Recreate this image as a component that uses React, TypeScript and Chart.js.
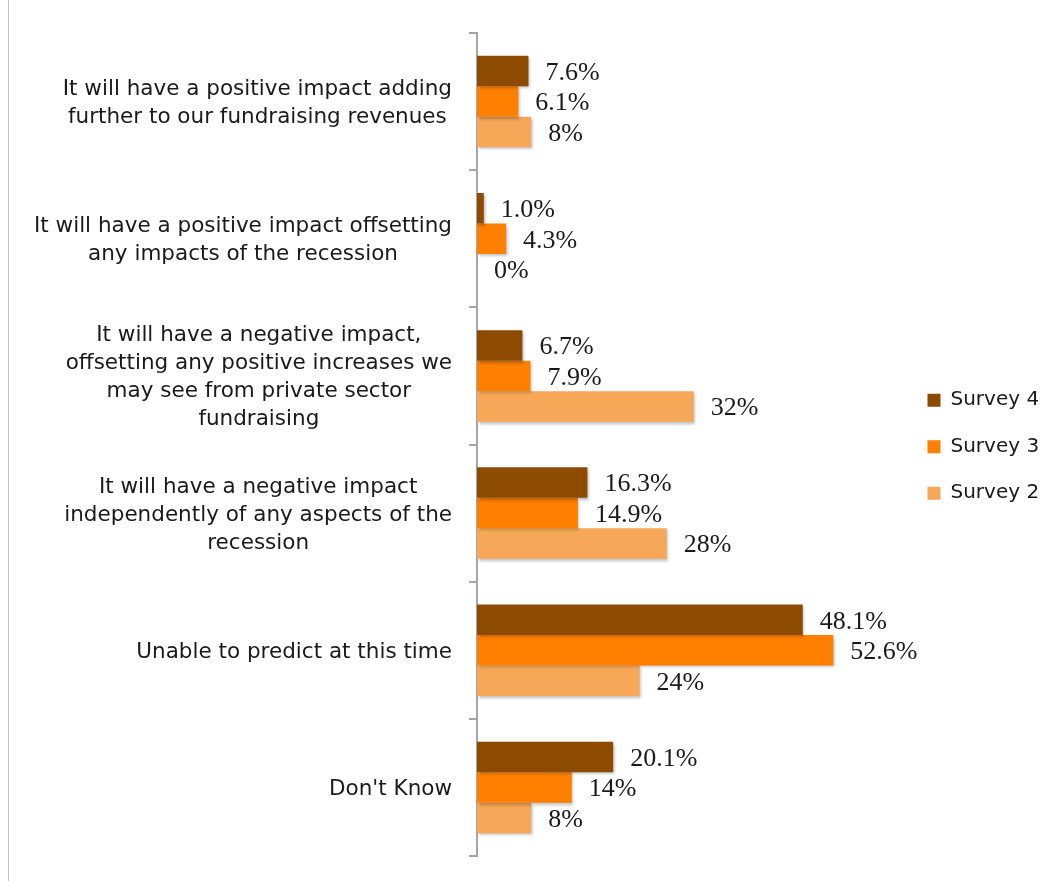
import React, { useEffect, useRef } from "react";
import { Chart, registerables } from "chart.js";

Chart.register(...registerables);

const categories: string[][] = [
  ["It will have a positive impact adding", "further to our fundraising revenues"],
  ["It will have a positive impact offsetting", "any impacts of the recession"],
  ["It will have a negative impact,", "offsetting any positive increases we", "may see from private sector", "fundraising"],
  ["It will have a negative impact", "independently of any aspects of the", "recession"],
  ["Unable to predict at this time"],
  ["Don't Know"],
];

const seriesNames = ["Survey 4", "Survey 3", "Survey 2"];
const survey4 = [7.6, 1.0, 6.7, 16.3, 48.1, 20.1];
const survey3 = [6.1, 4.3, 7.9, 14.9, 52.6, 14];
const survey2 = [8, 0, 32, 28, 24, 8];
const seriesDecimals = [1, -1, -1];
const seriesColors = ["#8C4B00", "#FF7F00", "#F7A758"];
const xMax = 62.6;

const fmt = (v: number, dec: number) => (dec >= 0 ? v.toFixed(dec) : String(v)) + "%";

const decorPlugin = {
  id: "decor",
  beforeDatasetsDraw(chart: any) {
    const ctx = chart.ctx;
    ctx.save();
    ctx.shadowColor = "rgba(0,0,0,0.28)";
    ctx.shadowBlur = 3;
    ctx.shadowOffsetX = 1.5;
    ctx.shadowOffsetY = 2;
  },
  afterDatasetsDraw(chart: any) {
    const ctx = chart.ctx;
    ctx.restore();
    ctx.save();
    ctx.font = "26px 'Liberation Serif'";
    ctx.fillStyle = "#1a1a1a";
    ctx.textAlign = "left";
    ctx.textBaseline = "middle";
    chart.data.datasets.forEach((ds: any, di: number) => {
      const meta = chart.getDatasetMeta(di);
      meta.data.forEach((bar: any, i: number) => {
        const v = ds.data[i] as number;
        ctx.fillText(fmt(v, seriesDecimals[di]), bar.x + 17, bar.y + 2);
      });
    });
    ctx.restore();
  },
  afterDraw(chart: any) {
    const ctx = chart.ctx;
    const yScale = chart.scales.y;
    const right = chart.chartArea.left - 25;
    ctx.save();
    ctx.font = "21.5px 'DejaVu Sans'";
    ctx.fillStyle = "#1a1a1a";
    ctx.textAlign = "center";
    ctx.textBaseline = "middle";
    const lh = 28;
    categories.forEach((lines, i) => {
      const cy = yScale.getPixelForValue(i) + 2;
      const maxW = Math.max(...lines.map((l) => ctx.measureText(l).width));
      const cx = right - maxW / 2;
      lines.forEach((line, j) => {
        ctx.fillText(line, cx, cy + (j - (lines.length - 1) / 2) * lh);
      });
    });
    ctx.restore();
  },
};

export default function App() {
  const canvasRef = useRef<HTMLCanvasElement | null>(null);

  useEffect(() => {
    if (!canvasRef.current) return;
    const values = [survey4, survey3, survey2];
    const chart = new Chart(canvasRef.current, {
      type: "bar",
      data: {
        labels: categories.map((c) => c.join(" ")),
        datasets: seriesNames.map((name, i) => ({
          label: name,
          data: values[i],
          backgroundColor: seriesColors[i],
          borderWidth: 0,
          categoryPercentage: 0.667,
          barPercentage: 1.0,
        })),
      },
      options: {
        indexAxis: "y",
        animation: false,
        responsive: true,
        maintainAspectRatio: false,
        layout: { padding: { top: 25, bottom: 17, left: 0, right: 0 } },
        scales: {
          x: { display: false, min: 0, max: xMax },
          y: {
            type: "category",
            position: "left",
            offset: true,
            grid: {
              offset: true,
              drawOnChartArea: false,
              drawTicks: true,
              tickLength: 8,
              color: "#a6a6a6",
              lineWidth: 2,
            },
            border: { display: true, color: "#a6a6a6", width: 2 },
            ticks: { display: false },
            afterFit: (s: any) => {
              s.width = 469;
            },
          },
        },
        plugins: {
          tooltip: { enabled: false },
          legend: {
            position: "right",
            align: "center",
            maxWidth: 146,
            title: { display: true, text: "", padding: 0, font: { size: 4.5, lineHeight: 1 } },
            labels: {
              boxWidth: 13,
              boxHeight: 13,
              padding: 26.5,
              color: "#1a1a1a",
              font: { family: "'DejaVu Sans'", size: 20 },
            },
          },
        },
      } as any,
      plugins: [decorPlugin],
    });
    return () => chart.destroy();
  }, []);

  return (
    <>
      <div
        style={{
          position: "fixed",
          left: 8,
          top: 0,
          width: 1,
          height: "100vh",
          background: "#c4c4c4",
          zIndex: 2,
        }}
      />
      <div style={{ position: "relative", width: 1039, height: 865 }}>
        <canvas ref={canvasRef} />
      </div>
    </>
  );
}
